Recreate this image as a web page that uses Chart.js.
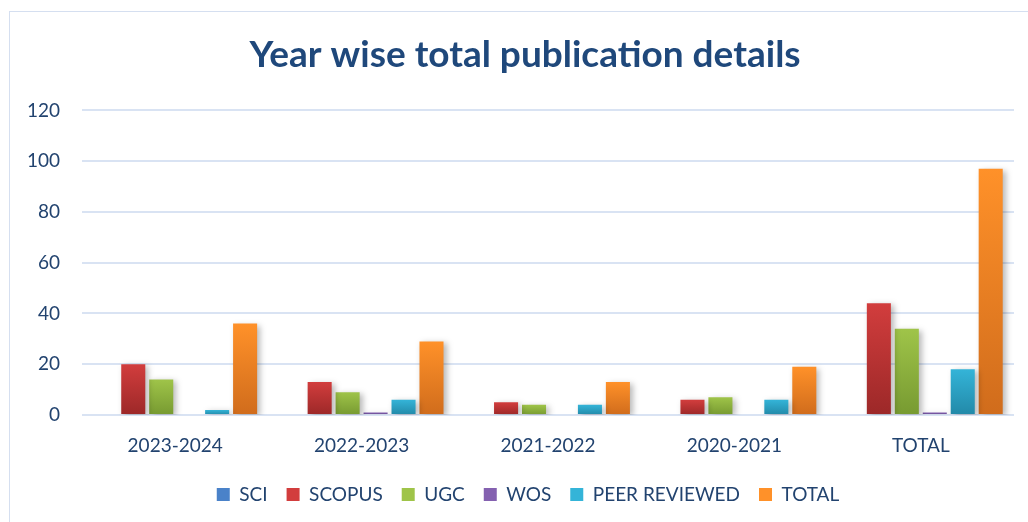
<!DOCTYPE html>
<html>
<head>
<meta charset="utf-8">
<script src="https://cdn.jsdelivr.net/npm/chart.js@4"></script>
<style>
  html, body { margin: 0; padding: 0; background: #fff; }
  #wrap { position: relative; width: 1028px; height: 522px; overflow: hidden; }
  #frame { position: absolute; left: 9px; top: 11px; width: 1040px; height: 540px; border: 1px solid #d5dff0; box-sizing: border-box; }
  canvas { position: absolute; left: 0; top: 0; }
</style>
</head>
<body>
<div id="wrap">
  <div id="frame"></div>
  <canvas id="pubChart" width="1028" height="522"></canvas>
</div>
<script>
// Data
const years = ['2023-2024', '2022-2023', '2021-2022', '2020-2021', 'TOTAL'];
const sci = [0, 0, 0, 0, 0];
const scopus = [20, 13, 5, 6, 44];
const ugc = [14, 9, 4, 7, 34];
const wos = [0, 1, 0, 0, 1];
const peerReviewed = [2, 6, 4, 6, 18];
const total = [36, 29, 13, 19, 97];

const navy = '#22436f';

// light top -> dark bottom, per series
const shades = {
  SCI: ['#4a82c9', '#2f5f9e'],
  SCOPUS: ['#d23d3d', '#9c2828'],
  UGC: ['#9fc449', '#779a31'],
  WOS: ['#8461b0', '#5f4388'],
  'PEER REVIEWED': ['#34b4d8', '#2289a8'],
  TOTAL: ['#ff9129', '#d06c1c']
};

function barFill(name) {
  const [top, bottom] = shades[name];
  return ctx => {
    const chart = ctx.chart;
    const y = chart.scales && chart.scales.y;
    if (!y || ctx.parsed == null) return top;
    const yTop = y.getPixelForValue(ctx.parsed.y);
    const yBase = y.getPixelForValue(0);
    if (!isFinite(yTop) || yBase - yTop < 1) return top;
    const g = chart.ctx.createLinearGradient(0, yTop, 0, yBase);
    g.addColorStop(0, top);
    g.addColorStop(1, bottom);
    return g;
  };
}

function series(label, data) {
  return { label, data, backgroundColor: barFill(label), borderWidth: 0 };
}

// soft drop shadow under the bars
const barShadow = {
  id: 'barShadow',
  beforeDatasetsDraw(chart) {
    const c = chart.ctx;
    c.save();
    c.shadowColor = 'rgba(0,0,0,0.28)';
    c.shadowBlur = 6;
    c.shadowOffsetX = 3;
    c.shadowOffsetY = 2;
  },
  afterDatasetsDraw(chart) {
    chart.ctx.restore();
  }
};

// title and legend are centred on the frame, a bit right of the plot centre
const centreNudge = {
  id: 'centreNudge',
  afterLayout(chart) {
    chart.titleBlock.left += 13;
    chart.titleBlock.right += 13;
    chart.legend.left += 16;
    chart.legend.right += 16;
  }
};

new Chart(document.getElementById('pubChart'), {
  type: 'bar',
  data: {
    labels: years,
    datasets: [
      series('SCI', sci),
      series('SCOPUS', scopus),
      series('UGC', ugc),
      series('WOS', wos),
      series('PEER REVIEWED', peerReviewed),
      series('TOTAL', total)
    ]
  },
  options: {
    responsive: false,
    animation: false,
    layout: { padding: { left: 10, right: 14, top: 22, bottom: 8 } },
    datasets: { bar: { categoryPercentage: 0.9, barPercentage: 0.86 } },
    scales: {
      x: {
        grid: { display: false, drawTicks: false },
        border: { display: false },
        ticks: { color: navy, font: { family: 'Lato', size: 19 }, padding: 19 },
        afterFit(scale) { scale.height = 51; }
      },
      y: {
        min: 0,
        max: 120,
        ticks: { stepSize: 20, color: navy, font: { family: 'Lato', size: 19 }, padding: 22 },
        grid: { color: '#d9e3f3', lineWidth: 2, drawTicks: false },
        border: { display: false },
        afterFit(scale) { scale.width = 72; }
      }
    },
    plugins: {
      title: {
        display: true,
        text: 'Year wise total publication details',
        color: '#1f487b',
        font: { family: 'Lato', size: 37, weight: 'bold' },
        padding: { top: 11, bottom: 33 }
      },
      legend: {
        position: 'bottom',
        labels: {
          color: navy,
          font: { family: 'Lato', size: 19 },
          boxWidth: 13,
          boxHeight: 13,
          padding: 19,
          generateLabels(chart) {
            return chart.data.datasets.map((ds, i) => ({
              text: ds.label,
              fillStyle: shades[ds.label][0],
              strokeStyle: shades[ds.label][0],
              lineWidth: 0,
              fontColor: navy,
              datasetIndex: i,
              hidden: false
            }));
          }
        }
      },
      tooltip: { enabled: false }
    }
  },
  plugins: [barShadow, centreNudge]
});
</script>
</body>
</html>
